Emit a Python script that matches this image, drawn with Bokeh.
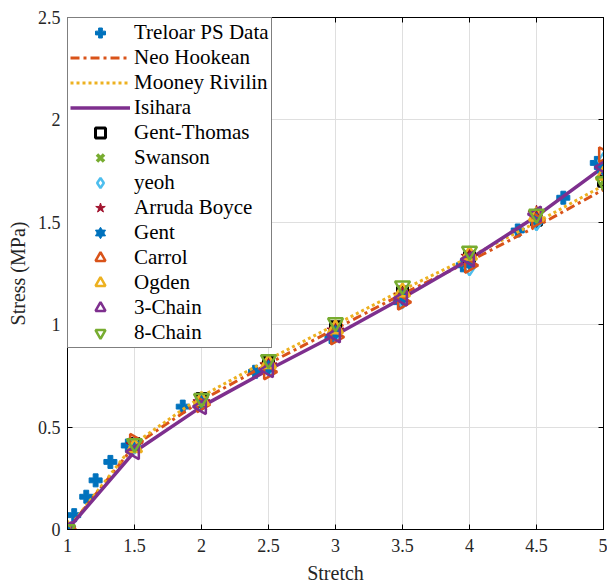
from bokeh.plotting import figure
from bokeh.models import LinearAxis, FixedTicker, CustomJSTickFormatter, Range1d
from bokeh.embed import file_html
from bokeh.resources import INLINE
import math

# ---------------- data ----------------
treloar_x = [1.0, 1.05, 1.14, 1.21, 1.32, 1.45, 1.86, 2.40, 2.97, 3.48, 3.95, 4.36, 4.70, 4.95]
treloar_y = [0.0, 0.07, 0.16, 0.24, 0.33, 0.41, 0.60, 0.77, 0.94, 1.11, 1.29, 1.46, 1.62, 1.79]

stretch = [1.0, 1.5, 2.0, 2.5, 3.0, 3.5, 4.0, 4.5, 5.0]
neo_hookean   = [0.0, 0.41, 0.63, 0.81, 0.98, 1.15, 1.31, 1.48, 1.66]
mooney_rivlin = [0.0, 0.42, 0.65, 0.83, 1.00, 1.17, 1.33, 1.50, 1.68]
isihara       = [0.0, 0.38, 0.60, 0.78, 0.95, 1.13, 1.32, 1.53, 1.77]
gent_thomas   = [0.0, 0.42, 0.64, 0.82, 0.99, 1.16, 1.33, 1.51, 1.70]
swanson       = [0.0, 0.41, 0.63, 0.81, 0.98, 1.15, 1.32, 1.50, 1.70]
yeoh          = [0.0, 0.41, 0.62, 0.79, 0.96, 1.12, 1.28, 1.50, 1.80]
arruda_boyce  = [0.0, 0.41, 0.62, 0.80, 0.97, 1.14, 1.33, 1.54, 1.76]
gent          = [0.0, 0.41, 0.62, 0.79, 0.96, 1.13, 1.30, 1.51, 1.76]
carrol        = [0.0, 0.43, 0.61, 0.77, 0.94, 1.11, 1.29, 1.51, 1.83]
ogden         = [0.0, 0.40, 0.63, 0.81, 0.98, 1.16, 1.34, 1.53, 1.73]
chain3        = [0.0, 0.38, 0.60, 0.78, 0.95, 1.13, 1.32, 1.54, 1.77]
chain8        = [0.0, 0.42, 0.64, 0.83, 1.01, 1.19, 1.36, 1.54, 1.70]

x_ticks = [1, 1.5, 2, 2.5, 3, 3.5, 4, 4.5, 5]
y_ticks = [0, 0.5, 1, 1.5, 2, 2.5]

FONT = "Liberation Serif"
BLUE = "#0072BD"; ORANGE = "#D95319"; YELLOW = "#EDB120"; PURPLE = "#7E2F8E"
GREEN = "#77AC30"; CYAN = "#4DBEEE"; RED = "#A2142F"

p = figure(width=607, height=588, output_backend="svg", toolbar_location=None,
           x_range=Range1d(1, 5), y_range=Range1d(0, 2.5),
           min_border_left=67, min_border_right=4, min_border_top=17, min_border_bottom=59)

fmt = CustomJSTickFormatter(code="return String(tick);")
for ax, ticks in ((p.xaxis[0], x_ticks), (p.yaxis[0], y_ticks)):
    ax.ticker = FixedTicker(ticks=ticks)
    ax.formatter = fmt
    ax.major_tick_in = 5
    ax.major_tick_out = 0
    ax.minor_tick_line_color = None
    ax.axis_line_color = "black"
    ax.major_tick_line_color = "black"
    ax.major_label_text_font = FONT
    ax.major_label_text_font_size = "18px"
    ax.major_label_text_color = "#262626"
    ax.axis_label_text_font = FONT
    ax.axis_label_text_font_size = "20px"
    ax.axis_label_text_font_style = "normal"
    ax.axis_label_text_color = "#262626"

p.xaxis.axis_label = "Stretch"
p.yaxis.axis_label = "Stress (MPa)"
p.xaxis.major_label_standoff = 9
p.xaxis.axis_label_standoff = 7
p.yaxis.major_label_standoff = 7
p.yaxis.axis_label_standoff = 6

blank = CustomJSTickFormatter(code="return '';")
for loc, ticks in (("right", y_ticks), ("above", x_ticks)):
    ax = LinearAxis(ticker=FixedTicker(ticks=ticks), formatter=blank, major_tick_in=5, major_tick_out=0,
                    minor_tick_line_color=None, major_label_text_font_size="1px",
                    major_label_text_color=None, major_label_standoff=0, axis_line_color="black")
    p.add_layout(ax, loc)

p.grid.grid_line_color = "#dfdfdf"
p.grid.grid_line_width = 1
p.xgrid.ticker = FixedTicker(ticks=x_ticks)
p.ygrid.ticker = FixedTicker(ticks=y_ticks)
p.outline_line_color = "black"
p.background_fill_color = "white"

# ---------------- glyphs ----------------
p.scatter(treloar_x, treloar_y, marker="plus", size=13, color=BLUE, legend_label="Treloar PS Data")
p.line(stretch, neo_hookean, line_color=ORANGE, line_width=3, line_dash="9 4 3 4", legend_label="Neo Hookean")
p.line(stretch, mooney_rivlin, line_color=YELLOW, line_width=3, line_dash="3 3", legend_label="Mooney Rivilin")
p.line(stretch, isihara, line_color=PURPLE, line_width=3.5, legend_label="Isihara")
p.scatter(stretch, gent_thomas, marker="square", size=10, line_color="black", line_width=3,
          fill_color=None, legend_label="Gent-Thomas")
p.scatter(stretch, swanson, marker="x", size=10, line_color=GREEN, line_width=3.5, legend_label="Swanson")
p.scatter(stretch, yeoh, marker="diamond", size=16, line_color=CYAN, line_width=2.5,
          fill_color=None, legend_label="yeoh")
p.scatter(stretch, arruda_boyce, marker="star", size=18, color=RED, legend_label="Arruda Boyce")
p.scatter(stretch, gent, marker="triangle", size=13, color=BLUE, legend_label="Gent")
p.scatter(stretch, gent, marker="inverted_triangle", size=13, color=BLUE, legend_label="Gent")
p.scatter(stretch, carrol, marker="triangle", angle=-math.pi / 2, size=15, line_color=ORANGE,
          line_width=2.5, fill_color=None, legend_label="Carrol")
p.scatter(stretch, ogden, marker="triangle", size=15, line_color=YELLOW, line_width=2.5,
          fill_color=None, legend_label="Ogden")
p.scatter(stretch, chain3, marker="triangle", angle=math.pi / 2, size=15, line_color=PURPLE,
          line_width=2.5, fill_color=None, legend_label="3-Chain")
p.scatter(stretch, chain8, marker="inverted_triangle", size=15, line_color=GREEN,
          line_width=2.5, fill_color=None, legend_label="8-Chain")

lg = p.legend[0]
lg.location = "top_left"
lg.margin = 0
lg.padding = 2
lg.spacing = 0
lg.glyph_height = 25
lg.label_height = 25
lg.glyph_width = 60
lg.label_standoff = 4
lg.label_text_font = FONT
lg.label_text_font_size = "21px"
lg.label_text_color = "black"
lg.border_line_color = "black"
lg.border_line_width = 1
lg.background_fill_alpha = 1

open("out.html", "w").write(file_html(p, INLINE))
